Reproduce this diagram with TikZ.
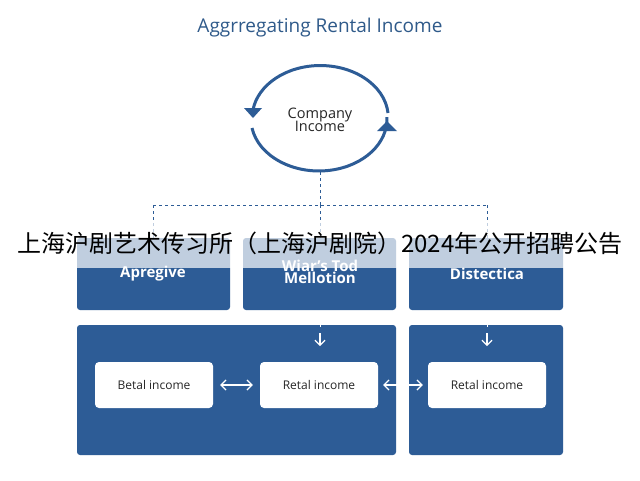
\documentclass[tikz,border=0pt]{standalone}
\usepackage{fontspec}
\setmainfont{Open Sans}
\newfontfamily\cjk{Noto Sans CJK SC}
\usetikzlibrary{arrows.meta}
\definecolor{navy}{HTML}{2D5C96}
\definecolor{ttl}{HTML}{2F5A8A}
\begin{document}
\begin{tikzpicture}[x=1pt,y=-1pt,
  blue box/.style={fill=navy,draw=none,rounded corners=3pt},
  white box/.style={fill=white,draw=none,rounded corners=4pt,minimum width=118pt,minimum height=46pt,font=\fontsize{12}{14}\selectfont,text=black!85},
  dline/.style={draw=navy,dash pattern=on 3pt off 3pt,line width=1pt},
  dbl/.style={draw=white,line width=1.2pt,{Straight Barb[length=5pt]}-{Straight Barb[length=5pt]}},
  btxt/.style={text=white,font=\bfseries\fontsize{15}{16}\selectfont,align=center}]
\useasboundingbox (0,0) rectangle (640,480);
\fill[white] (0,0) rectangle (640,480);
\node[text=ttl,font=\fontsize{19}{22}\selectfont] (title) at (320,28) {Aggrregating Rental Income};
% cycle
\node[font=\fontsize{14.5}{15}\selectfont,align=center,text=black!85] (ci) at (320,120) {Company\\[-2pt]Income};
\coordinate (ctop) at (320,172);
\draw[navy,line width=3pt] (388,113) arc[start angle=-5,end angle=-177,x radius=68,y radius=52];
\fill[navy] (244,108) -- (262,108) -- (253,118) -- cycle;
\draw[navy,line width=3pt] (252,128) arc[start angle=170,end angle=-2,x radius=68,y radius=52];
\fill[navy] (377,131) -- (397,131) -- (387,121) -- cycle;
% boxes
\fill[blue box] (77,238) rectangle (230,310);
\fill[blue box] (243,238) rectangle (396,310);
\fill[blue box] (409,238) rectangle (563,310);
\fill[blue box] (77,325) rectangle (396,455);
\fill[blue box] (409,325) rectangle (563,455);
\coordinate (j1) at (320,205); \coordinate (jl) at (153,205); \coordinate (jr) at (487,205);
\draw[dline] (ctop) -- (j1);
\draw[dline] (jl) -- (jr);
\draw[dline] (jl) -- (153,238);
\draw[dline] (j1) -- (320,238);
\draw[dline] (jr) -- (487,238);
\node[btxt] (a) at (153,274) {Apregive};
\node[btxt] (b) at (320,272) {Wiar's Tod\\[-4pt]Mellotion};
\node[btxt] (c) at (487,274) {Distectica};
\draw[dline,draw=white] (320,312) -- (320,328);
\draw[dline,draw=white] (487,312) -- (487,328);
\draw[white,line width=1.2pt,-{Straight Barb[length=5pt]}] (320,333) -- (320,346);
\draw[white,line width=1.2pt,-{Straight Barb[length=5pt]}] (487,333) -- (487,346);
\node[white box] (r1) at (154,385) {Betal income};
\node[white box] (r2) at (319,385) {Retal income};
\node[white box] (r3) at (487,385) {Retal income};
\draw[dbl] ([xshift=7pt]r1.east) -- ([xshift=-7pt]r2.west);
\draw[dbl] ([xshift=5pt]r2.east) -- ([xshift=-5pt]r3.west);
% banner
\fill[white,opacity=0.7] (0,222) rectangle (640,268);
\node[font=\cjk\fontsize{24}{26}\selectfont,text=black] (ban) at (320,243) {上海沪剧艺术传习所（上海沪剧院）2024年公开招聘公告};
\end{tikzpicture}
\end{document}
